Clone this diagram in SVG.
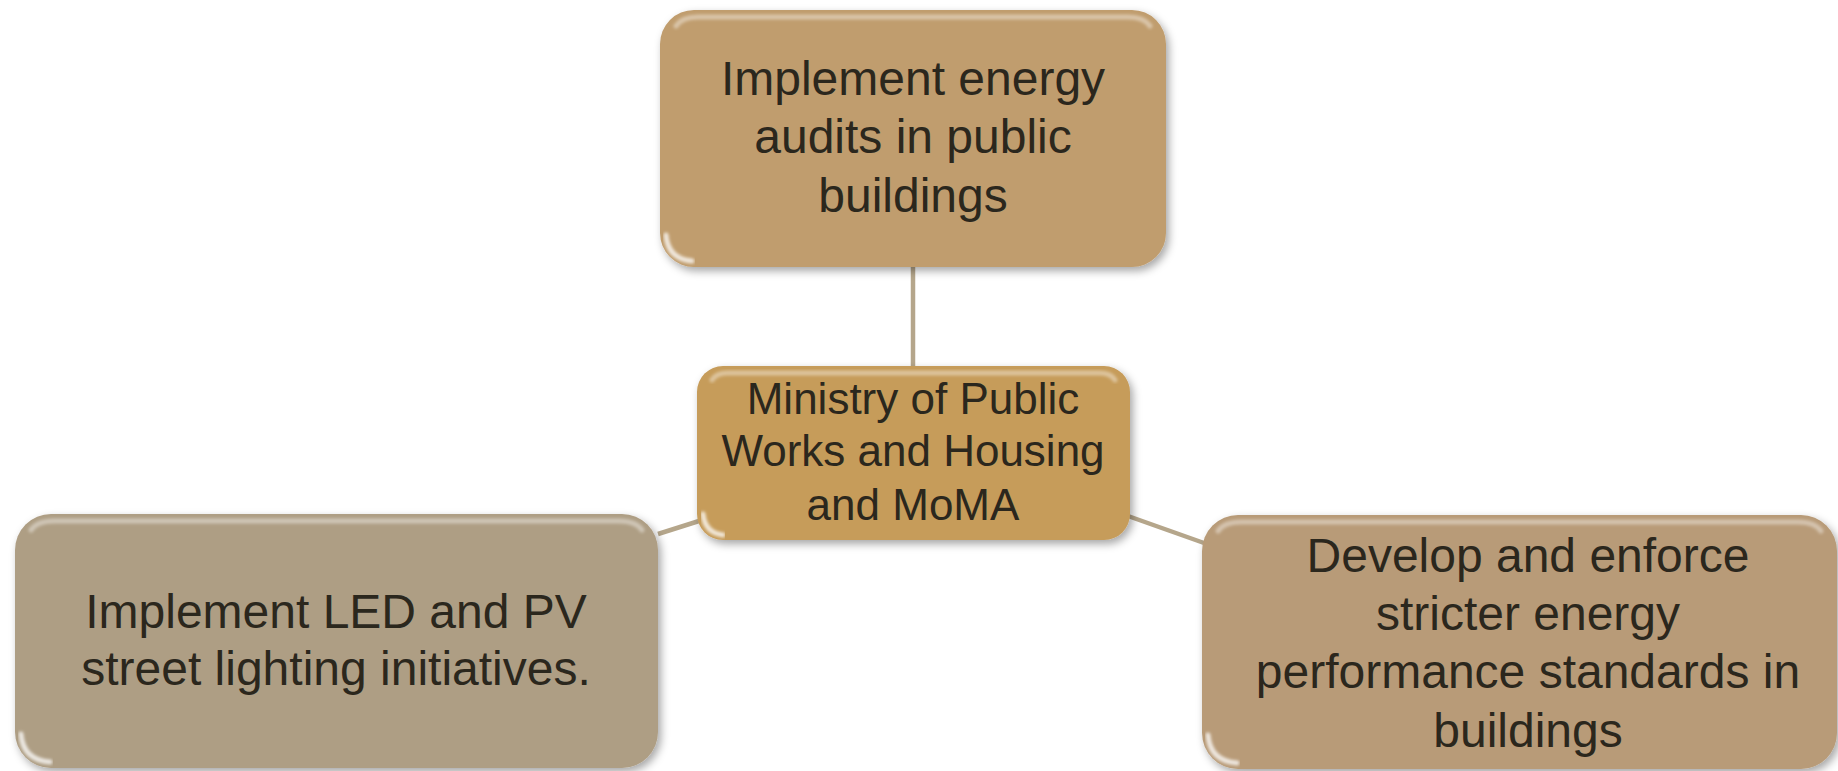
<svg xmlns="http://www.w3.org/2000/svg" width="1838" height="771" viewBox="0 0 1838 771">
  <defs>
    <filter id="shadow" x="-10%" y="-10%" width="125%" height="130%">
      <feDropShadow dx="3" dy="4" stdDeviation="4" flood-color="#000" flood-opacity="0.35"/>
    </filter>
    <filter id="soft" x="-10%" y="-50%" width="120%" height="200%">
      <feGaussianBlur stdDeviation="1.6"/>
    </filter>
  </defs>
  <style>
    .box { filter: url(#shadow); }
    .hl { fill: none; stroke: #fff; stroke-opacity: 0.4; stroke-width: 5; stroke-linecap: round; filter: url(#soft); }
    .hlc { fill: none; stroke: #fff; stroke-opacity: 0.75; stroke-width: 5; stroke-linecap: round; filter: url(#soft); }
    .dk { fill: none; stroke: #000; stroke-opacity: 0.12; stroke-width: 5; filter: url(#soft); }
    .lbl { font-family: "Liberation Sans", Arial, sans-serif; fill: #2b271d; text-anchor: middle; }
    .big { font-size: 48px; }
    .mid { font-size: 44px; }
    .conn { stroke: #b5a68b; stroke-width: 4.5; fill: none; }
  </style>
  <rect width="1838" height="771" fill="#ffffff"/>

  <g id="connectors">
    <line class="conn" x1="913" y1="265" x2="913" y2="368"/>
    <line class="conn" x1="658" y1="534" x2="699" y2="521"/>
    <line class="conn" x1="1128" y1="516" x2="1204" y2="543"/>
  </g>

  <g id="node-top">
    <rect class="box" x="660" y="10" width="506" height="257" rx="34" fill="#c09d6e"/>
    <path class="hl" d="M676,26 Q682,17 698,17 L1128,17 Q1144,17 1150,26"/>
    <path class="hlc" d="M666,235 Q668,259 692,261"/>
    <path class="dk" d="M1162,44 L1162,235"/>
    <text class="lbl big" x="913" y="95">Implement energy</text>
    <text class="lbl big" x="913" y="153">audits in public</text>
    <text class="lbl big" x="913" y="212">buildings</text>
  </g>

  <g id="node-center">
    <rect class="box" x="697" y="366" width="433" height="174" rx="26" fill="#c69c5a"/>
    <path class="hl" d="M712,380 Q716,373 728,373 L1099,373 Q1111,373 1115,380"/>
    <path class="hlc" d="M703,514 Q705,533 723,535"/>
    <path class="dk" d="M1126,392 L1126,514"/>
    <text class="lbl mid" x="913" y="414">Ministry of Public</text>
    <text class="lbl mid" x="913" y="466">Works and Housing</text>
    <text class="lbl mid" x="913" y="520">and MoMA</text>
  </g>

  <g id="node-left">
    <rect class="box" x="15" y="514" width="643" height="254" rx="36" fill="#ae9e84"/>
    <path class="hl" d="M31,530 Q37,521 54,521 L619,521 Q636,521 642,530"/>
    <path class="hlc" d="M21,734 Q23,760 50,762"/>
    <path class="dk" d="M654,550 L654,732"/>
    <text class="lbl big" x="336" y="628">Implement LED and PV</text>
    <text class="lbl big" x="336" y="685">street lighting initiatives.</text>
  </g>

  <g id="node-right">
    <rect class="box" x="1202" y="515" width="635" height="254" rx="36" fill="#b89b78"/>
    <path class="hl" d="M1218,531 Q1224,522 1241,522 L1798,522 Q1815,522 1821,531"/>
    <path class="hlc" d="M1208,735 Q1210,761 1237,763"/>
    <path class="dk" d="M1833,551 L1833,733"/>
    <text class="lbl big" x="1528" y="572">Develop and enforce</text>
    <text class="lbl big" x="1528" y="630">stricter energy</text>
    <text class="lbl big" x="1528" y="688">performance standards in</text>
    <text class="lbl big" x="1528" y="747">buildings</text>
  </g>
</svg>
